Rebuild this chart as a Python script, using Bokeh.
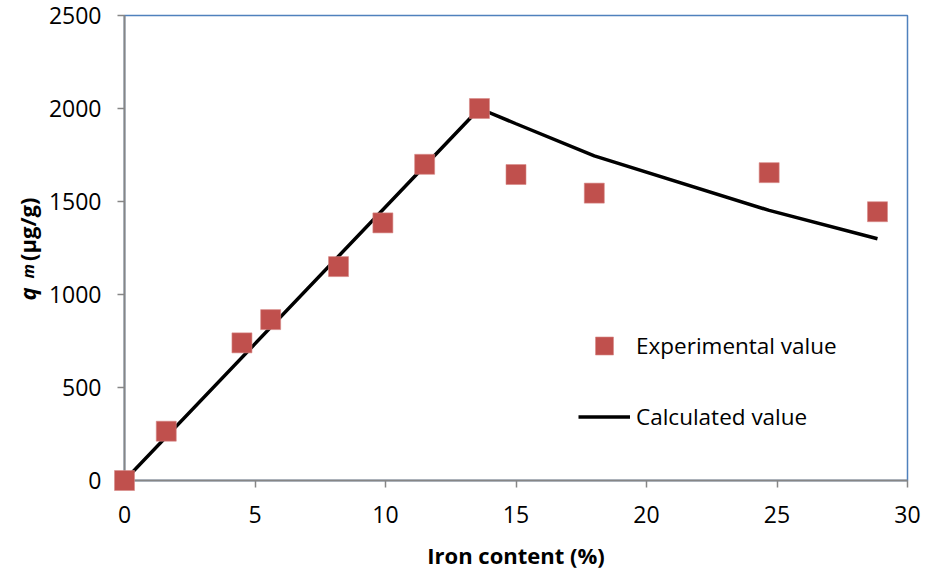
from math import pi

from bokeh.core.properties import value
from bokeh.embed import file_html
from bokeh.resources import INLINE
from bokeh.plotting import figure
from bokeh.models import (ColumnDataSource, Range1d, FixedTicker, Legend,
                          LegendItem)

# Experimental adsorption capacity vs. iron content
iron_exp = [0.0, 1.6, 4.5, 5.6, 8.2, 9.9, 11.5, 13.6, 15.0, 18.0, 24.7, 28.85]
qm_exp = [0, 265, 740, 865, 1150, 1385, 1700, 2000, 1645, 1545, 1655, 1445]

# Model (calculated) curve
iron_calc = [0.0, 13.6, 15.0, 18.0, 24.7, 28.85]
qm_calc = [0, 2000, 1918, 1745, 1452, 1300]

x_ticks = [0, 5, 10, 15, 20, 25, 30]
y_ticks = [0, 500, 1000, 1500, 2000, 2500]

FONT = "Open Sans"
RED = "#C0504D"

exp_src = ColumnDataSource(dict(x=iron_exp, y=qm_exp))
calc_src = ColumnDataSource(dict(x=iron_calc, y=qm_calc))

p = figure(width=926, height=573, output_backend="svg", toolbar_location=None,
           x_range=Range1d(0, 30), y_range=Range1d(0, 2500),
           min_border_left=124, min_border_right=19,
           min_border_top=15, min_border_bottom=93)

p.xgrid.visible = False
p.ygrid.visible = False
p.outline_line_color = "#4F81BD"
p.outline_line_width = 1.5

calc_r = p.line("x", "y", source=calc_src, line_color="black", line_width=3.5)
exp_r = p.scatter("x", "y", source=exp_src, marker="square", size=20,
                  fill_color=RED, line_color="#D68A88", line_width=0.6,
                  level="overlay")

for ax in (p.xaxis[0], p.yaxis[0]):
    ax.axis_line_color = "#868686"
    ax.axis_line_width = 2
    ax.major_tick_line_color = "#868686"
    ax.major_tick_line_width = 1.5
    ax.major_tick_out = 7
    ax.major_tick_in = 0
    ax.minor_tick_line_color = None
    ax.major_label_text_font = FONT
    ax.major_label_text_font_size = "23px"
    ax.major_label_text_color = "black"

p.xaxis.ticker = FixedTicker(ticks=x_ticks)
p.yaxis.ticker = FixedTicker(ticks=y_ticks)
p.xaxis.major_label_standoff = 18
p.yaxis.major_label_standoff = 16

p.xaxis.axis_label = "Iron content (%)"
p.xaxis.axis_label_text_font = FONT
p.xaxis.axis_label_text_font_size = "22px"
p.xaxis.axis_label_text_font_style = "bold"
p.xaxis.axis_label_text_color = "black"
p.xaxis.axis_label_standoff = 14

# y-axis title "q_m (µg/g)" built from rotated text pieces left of the frame
label_x = -3.75
title_parts = [
    dict(x=label_x, y=968, text="q", size="22px", style="bold italic"),
    dict(x=label_x + 0.06, y=1086, text="m", size="16px", style="bold italic"),
    dict(x=label_x, y=1180, text="(µg/g)", size="22px", style="bold"),
]
for part in title_parts:
    p.text(x=[part["x"]], y=[part["y"]], text=[part["text"]], angle=pi / 2,
           text_font=value(FONT), text_font_size=value(part["size"]),
           text_font_style=part["style"], text_align="left",
           text_baseline="alphabetic", text_color="black", level="overlay")

legend = Legend(items=[LegendItem(label="Experimental value", renderers=[exp_r]),
                       LegendItem(label="Calculated value", renderers=[calc_r])],
                location=(454, 41), orientation="vertical",
                border_line_color=None, background_fill_alpha=0,
                padding=0, margin=0, spacing=26,
                glyph_width=52, glyph_height=45, label_height=45,
                label_standoff=6,
                label_text_font=FONT, label_text_font_size="22.5px",
                label_text_color="black")
p.add_layout(legend, "center")

open("out.html", "w").write(file_html(p, INLINE))
